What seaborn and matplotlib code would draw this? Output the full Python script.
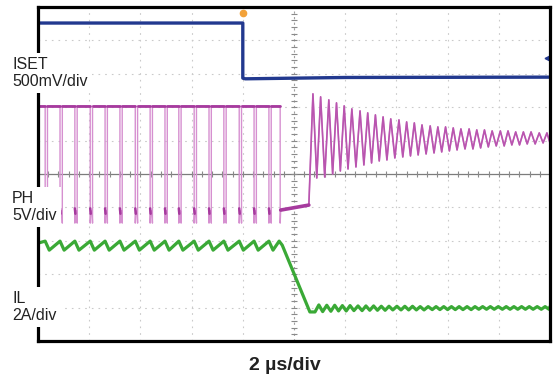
import numpy as np
import pandas as pd
import matplotlib.pyplot as plt
import seaborn as sns

sns.set_theme(style="white")
plt.rcParams['font.family'] = ['Liberation Sans', 'DejaVu Sans']

# scope screen: x in divisions (2 us/div), y in divisions (10 div high)
iset_t = [0.0, 4.00, 4.00, 4.05, 6.0, 10.0]
iset_v = [9.52, 9.52, 7.87, 7.85, 7.89, 7.90]

ph_pulse_t = [0.14, 0.43, 0.72, 1.02, 1.31, 1.60, 1.90, 2.19, 2.48, 2.75,
              3.05, 3.34, 3.63, 3.93, 4.22, 4.51]
ph_pulse_w = 0.045
ph_high = 7.04
ph_low = 3.89
ph_spike = 3.53
ph_stop_t = 4.73
ph_off_t = [4.74, 5.29]
ph_off_v = [3.92, 4.07]

ring_peak_t = [5.37, 5.52, 5.68, 5.83, 5.98, 6.13, 6.29, 6.44, 6.59, 6.74,
               6.89, 7.05, 7.20, 7.35, 7.50, 7.66, 7.81, 7.96, 8.11, 8.26,
               8.42, 8.57, 8.72, 8.87, 9.03, 9.18, 9.33, 9.48, 9.63, 9.79, 9.94]
ring_peak_v = [7.40, 7.31, 7.22, 7.13, 7.04, 6.95, 6.89, 6.83, 6.77, 6.71,
               6.65, 6.62, 6.56, 6.53, 6.47, 6.44, 6.41, 6.41, 6.38, 6.35,
               6.35, 6.32, 6.32, 6.29, 6.29, 6.29, 6.26, 6.26, 6.26, 6.23, 6.23]
ring_trough_v = [4.88, 4.91, 5.00, 5.09, 5.15, 5.21, 5.27, 5.33, 5.39, 5.42,
                 5.48, 5.51, 5.54, 5.57, 5.60, 5.63, 5.66, 5.69, 5.72, 5.75,
                 5.75, 5.78, 5.81, 5.84, 5.84, 5.87, 5.87, 5.90, 5.90, 5.93, 5.93]

il_start = 2.93
il_peak = 2.99
il_valley = 2.72
il_fall_t = [4.71, 4.77, 5.31]
il_fall_v = [2.99, 2.87, 0.87]
il_ring_lo = [0.87, 0.88, 0.89, 0.90, 0.90, 0.91, 0.91, 0.92, 0.92, 0.92,
              0.93, 0.93, 0.93, 0.93, 0.93, 0.94, 0.94, 0.94, 0.94, 0.94,
              0.94, 0.95, 0.95, 0.95, 0.95, 0.95, 0.95, 0.95, 0.95, 0.95, 0.95]
il_ring_hi = [1.08, 1.07, 1.07, 1.06, 1.06, 1.05, 1.05, 1.05, 1.04, 1.04,
              1.04, 1.04, 1.04, 1.03, 1.03, 1.03, 1.03, 1.03, 1.03, 1.03,
              1.03, 1.03, 1.03, 1.03, 1.03, 1.03, 1.03, 1.03, 1.03, 1.03, 1.03]

BLUE = '#22398f'
MAG = '#a63a9e'
MAG_LIGHT = '#d690d0'
MAG_RING = '#b955af'
GREEN = '#3aa936'

# ---- build traces ----
ring_trough_t = [(a + b) / 2 for a, b in zip(ring_peak_t[:-1], ring_peak_t[1:])] + [10.0]

ph_t, ph_v = [0.0], [ph_high]
high_segs = []
low_rows = []
seg_start = 0.0
for i, tp in enumerate(ph_pulse_t):
    high_segs.append((seg_start, tp))
    ph_t += [tp, tp, tp + 0.01, tp + ph_pulse_w - 0.01, tp + ph_pulse_w, tp + ph_pulse_w]
    ph_v += [ph_high, ph_spike, ph_low, ph_low, ph_spike, ph_high]
    low_rows += [(i, tp, ph_low + 0.08), (i, tp + 0.01, ph_low - 0.08)]
    seg_start = tp + ph_pulse_w
high_segs.append((seg_start, ph_stop_t))
ph_t += [ph_stop_t, ph_stop_t, ph_off_t[0], ph_off_t[1]]
ph_v += [ph_high, ph_spike, ph_off_v[0], ph_off_v[1]]
for tp, vp, tt, vt in zip(ring_peak_t, ring_peak_v, ring_trough_t, ring_trough_v):
    ph_t += [tp, tt]
    ph_v += [vp, vt]
ph_df = pd.DataFrame({'t': ph_t, 'v': ph_v})
ph_low_df = pd.DataFrame(low_rows, columns=['seg', 't', 'v'])

ph_hi_rows = []
for i, (a, b) in enumerate(high_segs):
    ph_hi_rows += [(i, a, ph_high), (i, b, ph_high)]
ph_hi_df = pd.DataFrame(ph_hi_rows, columns=['seg', 't', 'v'])

il_t, il_v = [0.0], [il_start]
for tp in ph_pulse_t:
    il_t += [tp, tp + 0.08]
    il_v += [il_peak, il_valley]
il_t += il_fall_t
il_v += il_fall_v
for tp, lo, tt, hi in zip(ring_peak_t, il_ring_lo, ring_trough_t, il_ring_hi):
    il_t += [min(tp + 0.04, 10.0), min(tt + 0.04, 10.0)]
    il_v += [lo, hi]
il_df = pd.DataFrame({'t': il_t, 'v': il_v})

iset_df = pd.DataFrame({'t': iset_t, 'v': iset_v})

# ---- figure ----
fig = plt.figure(figsize=(5.53, 3.76), dpi=100)
ax = fig.add_axes([38 / 553, 35 / 376, 512 / 553, 334 / 376])

# graticule
for k in range(1, 10):
    if k == 5:
        continue
    ax.axvline(k, color='#cacaca', lw=0.8, ls=(0, (1.5, 4.5)), zorder=0)
    ax.axhline(k, color='#cacaca', lw=0.8, ls=(0, (1.5, 4.5)), zorder=0)
ax.axhline(5, color='#7c7c7c', lw=0.9, zorder=0)
ax.axvline(5, color='#a0a0a0', lw=0.8, ls=(0, (2, 3)), zorder=0)
minor = np.arange(0.2, 10.0, 0.2)
ax.plot(minor, np.full_like(minor, 5), ls='none', marker='|', ms=4, mew=0.8,
        color='#8a8a8a', zorder=0)
ax.plot(np.full_like(minor, 5), minor, ls='none', marker='_', ms=4, mew=0.8,
        color='#8a8a8a', zorder=0)

# traces
sns.lineplot(data=iset_df, x='t', y='v', sort=False, estimator=None,
             color=BLUE, lw=2.4, ax=ax)
sns.lineplot(data=ph_df, x='t', y='v', sort=False, estimator=None,
             color=MAG_LIGHT, lw=1.0, ax=ax)
sns.lineplot(data=ph_df[ph_df['t'] >= ph_off_t[1]], x='t', y='v', sort=False,
             estimator=None, color=MAG_RING, lw=1.2, ax=ax)
sns.lineplot(data=ph_hi_df, x='t', y='v', units='seg', estimator=None,
             sort=False, color=MAG, lw=2.0, ax=ax)
sns.lineplot(data=ph_low_df, x='t', y='v', units='seg', estimator=None,
             sort=False, color=MAG, lw=1.8, ax=ax)
sns.lineplot(data=ph_df[(ph_df['t'] >= ph_off_t[0]) & (ph_df['t'] <= ph_off_t[1])],
             x='t', y='v', sort=False, estimator=None, color=MAG, lw=2.6, ax=ax)
sns.lineplot(data=il_df, x='t', y='v', sort=False, estimator=None,
             color=GREEN, lw=2.3, ax=ax)

# trigger marker and level marker
ax.plot([4.0], [9.82], marker='o', ms=4.5, color='#f2a23a', clip_on=False)
ax.plot([9.95], [8.47], marker='<', ms=3.5, color=BLUE, clip_on=False)

ax.set_xlim(0, 10)
ax.set_ylim(0, 10)
ax.set_xticks([])
ax.set_yticks([])
ax.set_xlabel('')
ax.set_ylabel('')
for s in ax.spines.values():
    s.set_linewidth(2.3)
    s.set_color('black')

box = dict(facecolor='white', edgecolor='none', pad=3.5)
fig.text(12 / 553, 1 - 73 / 376, 'ISET\n500mV/div', fontsize=11.5, va='center',
         ha='left', linespacing=1.1, color='#222222', bbox=box)
fig.text(12 / 553, 1 - 207 / 376, 'PH\n5V/div', fontsize=11.5, va='center',
         ha='left', linespacing=1.1, color='#222222', bbox=box)
fig.text(12 / 553, 1 - 307 / 376, 'IL\n2A/div', fontsize=11.5, va='center',
         ha='left', linespacing=1.1, color='#222222', bbox=box)
fig.text(285 / 553, 1 - 365 / 376, '2 µs/div', fontsize=14, fontweight='bold',
         ha='center', va='center', color='#222222')

fig.savefig('out.png', dpi=100)
